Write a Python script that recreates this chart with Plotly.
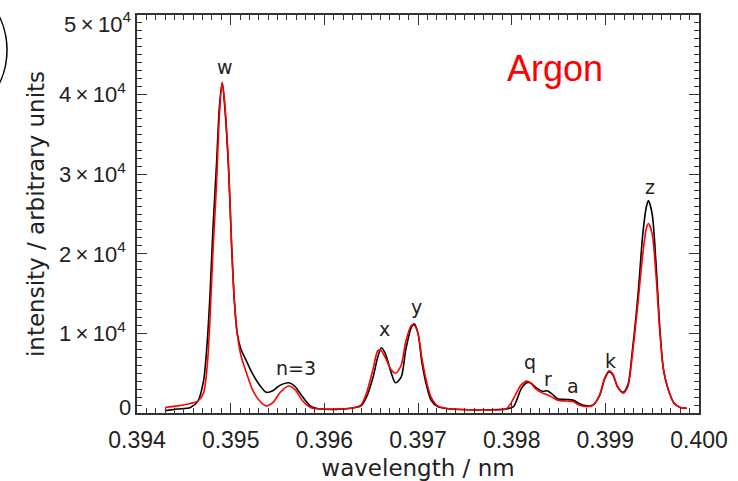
import plotly.graph_objects as go

# ---- data ----
wl_measured = [0.39430, 0.39443, 0.39457, 0.39465, 0.39471, 0.39475, 0.39478, 0.39481, 0.39485,
               0.39488, 0.39491, 0.39494, 0.39498, 0.39501, 0.39504, 0.39507, 0.39511, 0.39517,
               0.39523, 0.39531, 0.39538, 0.39545, 0.39553, 0.39562, 0.39569, 0.39577, 0.39585,
               0.39596, 0.39612, 0.39628, 0.39639, 0.39645, 0.39652, 0.39657, 0.39661, 0.39665,
               0.39671, 0.39676, 0.39682, 0.39687, 0.39693, 0.39696, 0.39700, 0.39704, 0.39709,
               0.39714, 0.39721, 0.39735, 0.39768, 0.39794, 0.39802, 0.39806, 0.39810, 0.39816,
               0.39820, 0.39826, 0.39833, 0.39838, 0.39843, 0.39849, 0.39859, 0.39866, 0.39872,
               0.39880, 0.39887, 0.39894, 0.39899, 0.39904, 0.39908, 0.39913, 0.39919, 0.39924,
               0.39929, 0.39935, 0.39940, 0.39944, 0.39946, 0.39950, 0.39954, 0.39958, 0.39962,
               0.39967, 0.39973, 0.39980, 0.39987]
int_measured = [300, 500, 700, 1500, 4000, 9000, 15000, 23000, 31500,
                38500, 41500, 38000, 30000, 21000, 14000, 10000, 8000, 6500,
                5000, 3500, 2600, 2800, 3500, 3800, 3300, 2000, 900,
                500, 450, 600, 900, 2000, 4500, 7000, 8200, 7500,
                5200, 3800, 4500, 8000, 10800, 11200, 10000, 6500, 3500,
                1600, 800, 500, 400, 500, 800, 1800, 3000, 3800,
                3800, 3200, 2700, 2800, 2400, 1800, 1700, 1600, 1200,
                900, 1000, 2200, 4200, 5200, 4800, 3300, 2600, 3500,
                8000, 15000, 22500, 26000, 26700, 25000, 19000, 11000, 5500,
                3000, 1300, 700, 600]

wl_fit = [0.39430, 0.39443, 0.39457, 0.39465, 0.39471, 0.39475, 0.39478, 0.39481, 0.39485,
          0.39488, 0.39491, 0.39494, 0.39498, 0.39501, 0.39504, 0.39507, 0.39511, 0.39517,
          0.39523, 0.39531, 0.39538, 0.39545, 0.39553, 0.39562, 0.39569, 0.39577, 0.39585,
          0.39596, 0.39612, 0.39628, 0.39639, 0.39645, 0.39652, 0.39657, 0.39660, 0.39665,
          0.39671, 0.39676, 0.39682, 0.39687, 0.39693, 0.39696, 0.39700, 0.39704, 0.39709,
          0.39714, 0.39721, 0.39735, 0.39768, 0.39794, 0.39799, 0.39805, 0.39810, 0.39816,
          0.39820, 0.39826, 0.39833, 0.39838, 0.39843, 0.39849, 0.39859, 0.39866, 0.39872,
          0.39880, 0.39887, 0.39894, 0.39899, 0.39904, 0.39908, 0.39913, 0.39919, 0.39924,
          0.39929, 0.39935, 0.39940, 0.39944, 0.39946, 0.39950, 0.39954, 0.39958, 0.39962,
          0.39967, 0.39973, 0.39980, 0.39987]
int_fit = [700, 900, 1200, 1500, 2500, 6000, 12000, 20000, 29000,
           37500, 41500, 38500, 30500, 21000, 14000, 10000, 7200, 5000,
           3000, 1500, 900, 1300, 2600, 3400, 2900, 1500, 700,
           500, 500, 600, 1000, 2500, 5500, 7800, 7900, 7000,
           5500, 5000, 6000, 9000, 11000, 11000, 10000, 7000, 4000,
           2000, 900, 500, 400, 500, 1200, 2500, 3500, 4000,
           3800, 3000, 2500, 2300, 2000, 1600, 1500, 1400, 1000,
           800, 1000, 2300, 4300, 5300, 4900, 3300, 2500, 3300,
           7500, 14000, 20000, 23300, 23800, 22500, 17500, 10500, 5500,
           3000, 1300, 700, 600]

line_labels = ["w", "n=3", "x", "y", "q", "r", "a", "k", "z"]
label_wl = [0.39494, 0.39570, 0.39664, 0.39698, 0.39820, 0.39839, 0.39866, 0.39905, 0.39948]
label_int = [43500, 5600, 10600, 13300, 6400, 4300, 3400, 6500, 28400]

SP = "\u2009"
y_tick_labels = {  # default plotly label -> displayed label
    "10k": f"1{SP}×{SP}10<sup>4</sup>", "20k": f"2{SP}×{SP}10<sup>4</sup>",
    "30k": f"3{SP}×{SP}10<sup>4</sup>", "40k": f"4{SP}×{SP}10<sup>4</sup>",
    "50k": " ", "0": " ",
}
y_top_value = [50000]
y_top_text = [f"5{SP}×{SP}10<sup>4</sup>"]
y_zero_text = "0"

y_range = [0, 50000]
tick_font = dict(family="Liberation Sans", size=22, color="#222")

# ---- figure ----
fig = go.Figure()
fig.add_trace(go.Scatter(x=wl_measured, y=int_measured, mode="lines",
                         line=dict(color="black", width=1.6, shape="spline", smoothing=0.8),
                         name="measured", showlegend=False))
fig.add_trace(go.Scatter(x=wl_fit, y=int_fit, mode="lines", yaxis="y2",
                         line=dict(color="#ff0000", width=1.6, shape="spline", smoothing=0.8),
                         name="fit", showlegend=False))

for t, xv, yv in zip(line_labels, label_wl, label_int):
    fig.add_annotation(x=xv, y=yv, text=t, showarrow=False, xanchor="center", yanchor="middle",
                       font=dict(family="DejaVu Sans", size=19, color="#222"))

# zero label of the y axis, nudged up inside the frame as in the original
fig.add_annotation(x=0, xref="x domain", y=0, yref="y", text=y_zero_text, showarrow=False,
                   xanchor="right", yanchor="middle", xshift=-5, yshift=6, borderpad=0,
                   font=tick_font)

fig.add_annotation(x=0.7445, y=0.866, xref="paper", yref="paper", text="Argon",
                   showarrow=False, xanchor="center", yanchor="middle",
                   font=dict(family="Liberation Sans", size=36, color="#ff0000"))

# partial circle at the top-left corner (figure label decoration)
fig.add_shape(type="circle", xref="paper", yref="paper",
              x0=-0.5053, x1=-0.2313, y0=0.7186, y1=1.1055,
              line=dict(color="black", width=1.5))

axis_common = dict(showline=True, linecolor="#333", linewidth=1.5, mirror="ticks",
                   ticks="inside", ticklen=10, tickwidth=1.3, tickcolor="#333",
                   showgrid=False, zeroline=False, ticklabeloverflow="allow",
                   tickmode="linear")

fig.update_layout(
    xaxis=dict(range=[0.394, 0.400], tick0=0.394, dtick=0.001, tickformat=".3f",
               ticklabelstandoff=6,
               tickfont=dict(family="Liberation Sans", size=23, color="#222"),
               minor=dict(tickmode="linear", dtick=0.0001, tick0=0.394, ticks="inside",
                          ticklen=5, tickwidth=1.1, tickcolor="#333", showgrid=False),
               title=dict(text="wavelength / nm", standoff=8,
                          font=dict(family="DejaVu Sans", size=23, color="#222")),
               **axis_common),
    yaxis=dict(range=y_range, tick0=0, dtick=10000, labelalias=y_tick_labels,
               ticklabelstandoff=5, tickfont=tick_font,
               minor=dict(tickmode="linear", dtick=1000, tick0=0, ticks="inside",
                          ticklen=5, tickwidth=1.1, tickcolor="#333", showgrid=False),
               title=dict(text="intensity / arbitrary units", standoff=8,
                          font=dict(family="DejaVu Sans", size=23, color="#222")),
               **axis_common),
    yaxis2=dict(range=y_range, overlaying="y", anchor="x", side="left",
                tickmode="array", tickvals=y_top_value, ticktext=y_top_text,
                ticks="", showline=False, showgrid=False, zeroline=False,
                ticklabelstandoff=5, ticklabelshift=9, ticklabeloverflow="allow",
                tickfont=tick_font),
    width=738, height=481, plot_bgcolor="white", paper_bgcolor="white",
    margin=dict(l=137, r=39, t=15, b=68, autoexpand=False),
)

fig.write_html("out.html")
